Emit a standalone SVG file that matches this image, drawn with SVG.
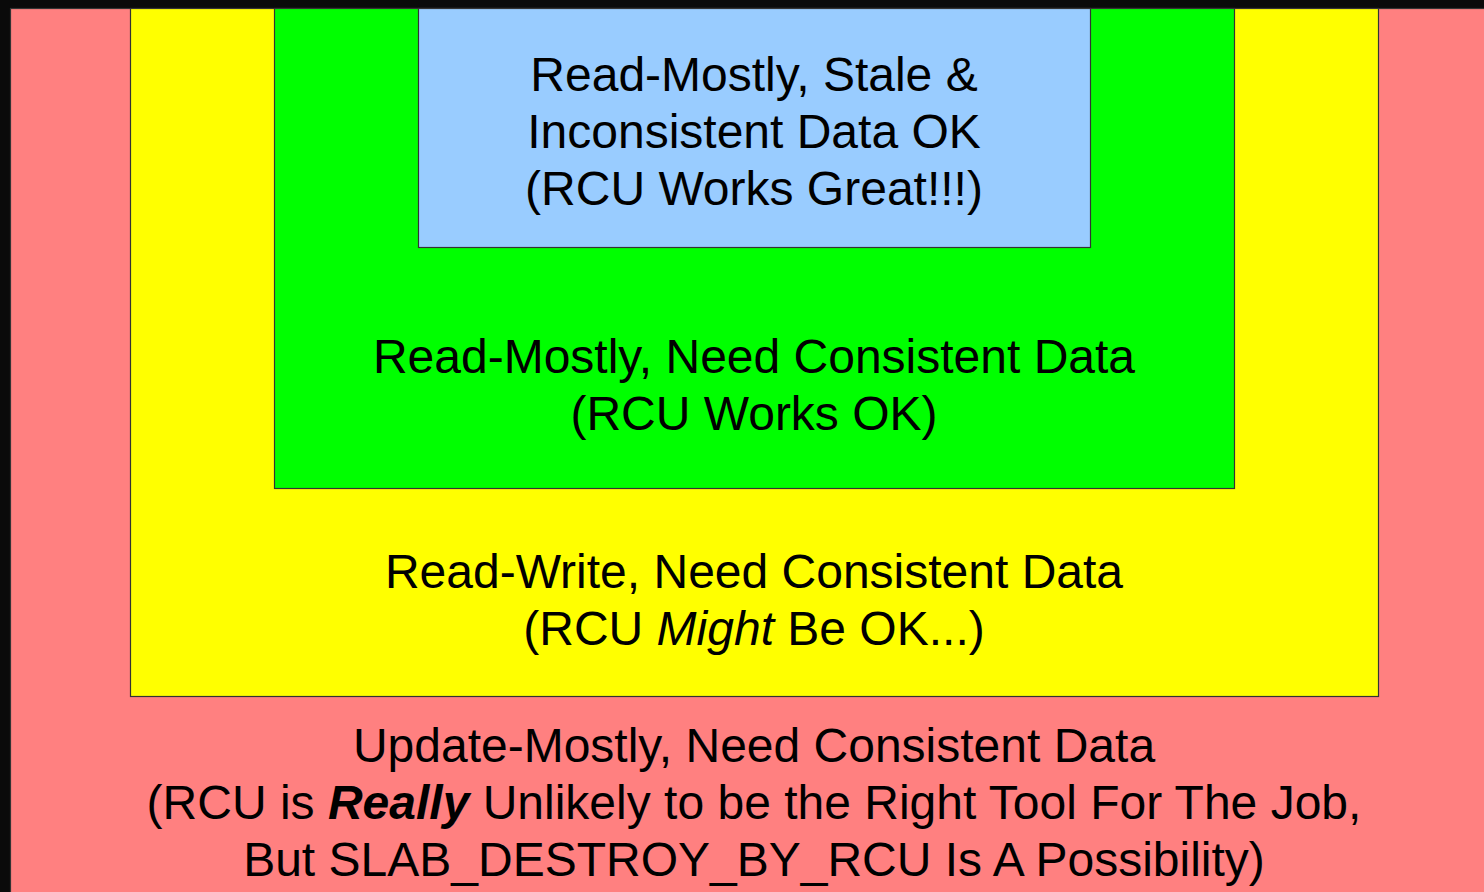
<svg xmlns="http://www.w3.org/2000/svg" width="1484" height="892" viewBox="0 0 1484 892">
<style>
.box{stroke:#333;stroke-width:1.2}
.t{font-family:"Liberation Sans",Arial,sans-serif;font-size:48px;fill:#000;text-anchor:middle}
</style>
<rect width="1484" height="892" fill="#0a0a0a"/>
<g id="update-mostly">
<rect class="box" x="10.5" y="8.5" width="1480" height="890" fill="#ff8080"/>
<text class="t" x="754" y="762">Update-Mostly, Need Consistent Data</text>
<text class="t" x="754" y="819">(RCU is <tspan font-weight="bold" font-style="italic">Really</tspan> Unlikely to be the Right Tool For The Job,</text>
<text class="t" x="754" y="876">But SLAB_DESTROY_BY_RCU Is A Possibility)</text>
</g>
<g id="read-write">
<rect class="box" x="130.5" y="8.5" width="1248" height="688" fill="#ffff00"/>
<text class="t" x="754" y="588">Read-Write, Need Consistent Data</text>
<text class="t" x="754" y="645">(RCU <tspan font-style="italic">Might</tspan> Be OK...)</text>
</g>
<g id="read-mostly-consistent">
<rect class="box" x="274.5" y="8.5" width="960" height="480" fill="#00ff00"/>
<text class="t" x="754" y="373">Read-Mostly, Need Consistent Data</text>
<text class="t" x="754" y="430">(RCU Works OK)</text>
</g>
<g id="read-mostly-stale">
<rect class="box" x="418.5" y="8.5" width="672" height="239" fill="#99ccff"/>
<text class="t" x="754" y="91">Read-Mostly, Stale &amp;</text>
<text class="t" x="754" y="148">Inconsistent Data OK</text>
<text class="t" x="754" y="205">(RCU Works Great!!!)</text>
</g>
<g id="connectors"/>
</svg>
